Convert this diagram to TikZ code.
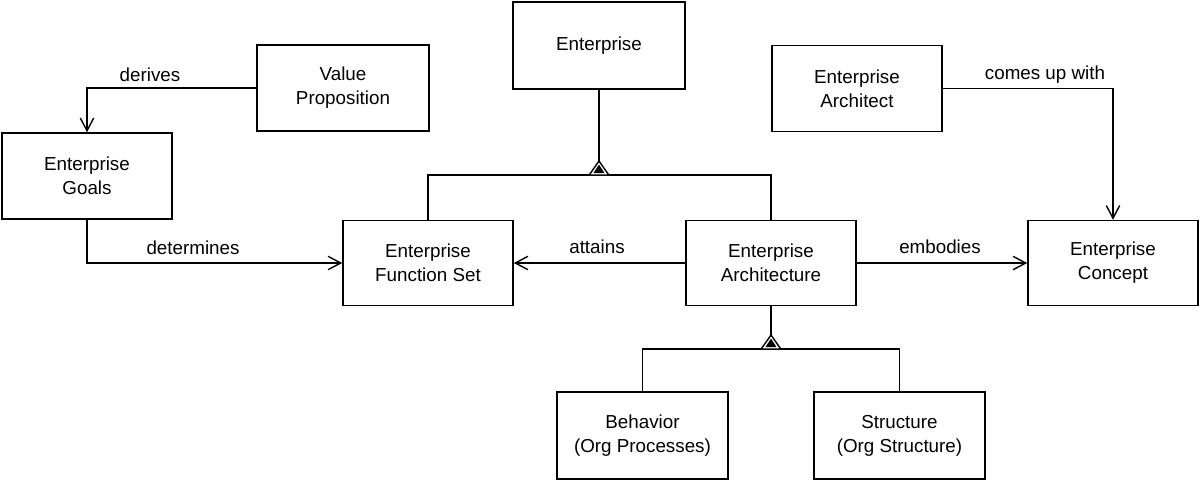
\documentclass[tikz,border=0pt]{standalone}
\usepackage{fontspec}
\setmainfont{Liberation Sans}
\usetikzlibrary{arrows.meta,calc}
\begin{document}
\begin{tikzpicture}[x=0.02cm,y=-0.02cm,
  every node/.style={font=\fontsize{10.7}{13.6}\selectfont},
  cls/.style={draw,line width=0.9pt,minimum width=3.4cm,minimum height=1.72cm,align=center,inner sep=0pt},
  link/.style={line width=0.8pt,-{Straight Barb[length=7.2pt,width=7.6pt,line width=0.8pt]}},
  plain/.style={line width=0.8pt},
  lbl/.style={inner sep=1pt},
  gen/.pic={
    \draw[line width=0.8pt,fill=white] (-9.8,0) -- (0,-14) -- (9.8,0) -- cycle;
    \fill (-5.6,-1.8) -- (0,-10.4) -- (5.6,-1.8) -- cycle;
  }]
\useasboundingbox (0,0) rectangle (1201,481);

% classes
\node[cls,minimum width=3.44cm,minimum height=1.74cm] (ent) at (599,45.5) {Enterprise};
\node[cls,minimum width=3.44cm] (vp) at (343,88) {Value\\Proposition};
\node[cls] (arch) at (857,88.5) {Enterprise\\Architect};
\node[cls] (goals) at (87,176) {Enterprise\\Goals};
\node[cls,minimum height=1.7cm] (efs) at (428,263) {Enterprise\\Function Set};
\node[cls,minimum height=1.7cm] (ea) at (771,263) {Enterprise\\Architecture};
\node[cls,minimum height=1.7cm] (ec) at (1113,263) {Enterprise\\Concept};
\node[cls,minimum width=3.42cm,minimum height=1.74cm] (beh) at (642.5,435.5) {Behavior\\(Org Processes)};
\node[cls,minimum width=3.42cm,minimum height=1.74cm] (str) at (899.5,435.5) {Structure\\(Org Structure)};

% associations
\draw[link] (vp.west) -| (goals.north);
\draw[link] (goals.south) |- (efs.west);
\draw[link] (arch.east) -| (ec.north);
\draw[link] (ea.west) -- (efs.east);
\draw[link] (ea.east) -- (ec.west);

% association labels
\node[lbl] (lderives) at (150,75) {derives};
\node[lbl] (ldetermines) at (193,248) {determines};
\node[lbl] (lattains) at (597,247) {attains};
\node[lbl] (lembodies) at (940,247) {embodies};
\node[lbl] (lcomes) at (1045,75) {comes up with};

% generalization: Enterprise
\coordinate (g1) at (ent.south |- 0,175);
\draw[plain] (efs.north) |- (g1) -| (ea.north);
\draw[plain] (ent.south) -- ($(g1)+(0,-14)$);
\pic at (g1) {gen};

% generalization: Enterprise Architecture
\coordinate (g2) at (ea.south |- 0,349);
\draw[plain] (beh.north) |- (g2) -| (str.north);
\draw[plain] (ea.south) -- ($(g2)+(0,-14)$);
\pic at (g2) {gen};
\end{tikzpicture}
\end{document}
